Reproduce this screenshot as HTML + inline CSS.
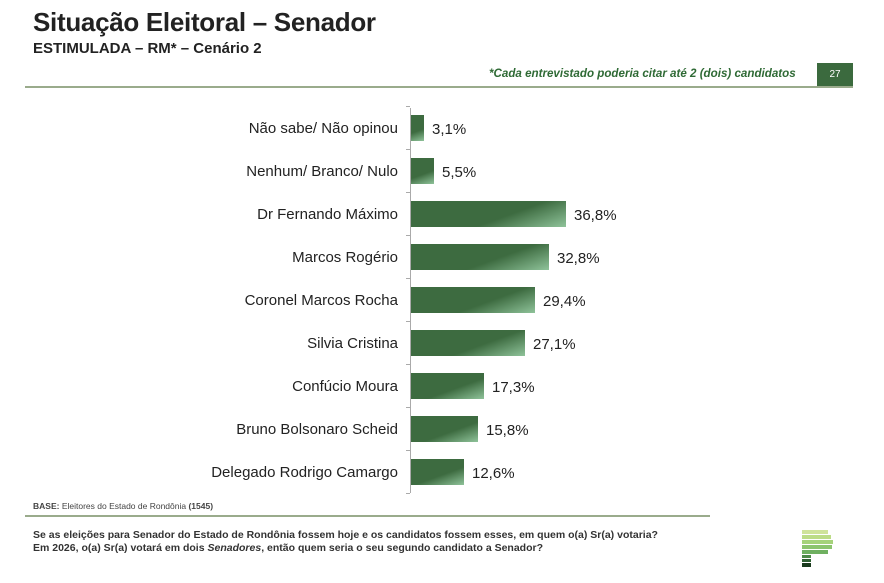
<!DOCTYPE html><html><head><meta charset="utf-8"><style>
body{margin:0;width:884px;height:583px;background:#fff;font-family:"Liberation Sans",sans-serif;position:relative;overflow:hidden}
.a{position:absolute;white-space:nowrap}
.lbl{position:absolute;right:486px;font-size:15px;color:#222;white-space:nowrap}
.bar{position:absolute;left:411px;height:26px;background:linear-gradient(160deg,#3d6b40 0%,#3d6b40 60%,#8fc39a 100%)}
.val{position:absolute;font-size:15px;color:#222}
</style></head><body>
<div class="a" style="left:33px;top:7px;font-size:26px;font-weight:bold;color:#222;letter-spacing:-0.3px">Situação Eleitoral – Senador</div>
<div class="a" style="left:33px;top:40px;font-size:15px;font-weight:bold;color:#222">ESTIMULADA – RM* – Cenário 2</div>
<div class="a" style="left:489px;top:67px;font-size:11.6px;font-style:italic;font-weight:bold;color:#2f6a35">*Cada entrevistado poderia citar até 2 (dois) candidatos</div>
<div class="a" style="left:817px;top:63px;width:36px;height:23px;background:#3b6a3e;color:#fff;font-size:10px;text-align:center;line-height:23px">27</div>
<div class="a" style="left:25px;top:86px;width:828px;height:2px;background:#9aab8c"></div>
<div class="a" style="left:410px;top:108px;width:1px;height:385px;background:#aaa"></div>
<div id="c"></div>
<div class="a" style="left:33px;top:501px;font-size:8.5px;color:#444"><b>BASE:</b> Eleitores do Estado de Rondônia <b>(1545)</b></div>
<div class="a" style="left:25px;top:515px;width:685px;height:2px;background:#9aab8c"></div>
<div class="a" style="left:33px;top:529px;font-size:10.5px;font-weight:bold;color:#333;line-height:13px">Se as eleições para Senador do Estado de Rondônia fossem hoje e os candidatos fossem esses, em quem o(a) Sr(a) votaria?<br>Em 2026, o(a) Sr(a) votará em dois <i>Senadores</i>, então quem seria o seu segundo candidato a Senador?</div>
<svg class="a" style="left:802px;top:530px" width="32" height="38">
<rect x="0" y="0" width="26" height="4" fill="#cfe39a"/><rect x="0" y="5" width="29" height="4" fill="#bcdc86"/><rect x="0" y="10" width="31" height="4" fill="#a5d27a"/><rect x="0" y="15" width="30" height="4" fill="#8cc46e"/><rect x="0" y="20" width="26" height="4" fill="#6fb060"/><rect x="0" y="25" width="9" height="3" fill="#4d8a48"/><rect x="0" y="29" width="9" height="3" fill="#2f6032"/><rect x="0" y="33" width="9" height="4" fill="#1a3a1d"/>
</svg>
<script>
var d=[["Não sabe/ Não opinou",3.1],["Nenhum/ Branco/ Nulo",5.5],["Dr Fernando Máximo",36.8],["Marcos Rogério",32.8],["Coronel Marcos Rocha",29.4],["Silvia Cristina",27.1],["Confúcio Moura",17.3],["Bruno Bolsonaro Scheid",15.8],["Delegado Rodrigo Camargo",12.6]];
var h="";
d.forEach(function(r,i){var c=128+43*i,w=Math.round(r[1]*4.21);
h+='<div class="lbl" style="top:'+(c-8)+'px">'+r[0]+'</div>';
h+='<div class="a" style="left:406px;top:'+(c-22)+'px;width:4px;height:1px;background:#aaa"></div>';
h+='<div class="bar" style="top:'+(c-13)+'px;width:'+w+'px"></div>';
h+='<div class="val" style="left:'+(411+w+8)+'px;top:'+(c-7)+'px">'+r[1].toFixed(1).replace(".",",")+'%</div>';});
h+='<div class="a" style="left:406px;top:493px;width:4px;height:1px;background:#aaa"></div>';
document.getElementById("c").innerHTML=h;
</script>
</body></html>
